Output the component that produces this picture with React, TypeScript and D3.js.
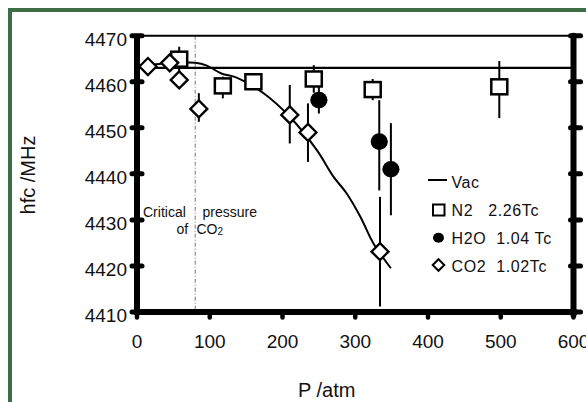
import React from "react";
import * as d3 from "d3";

const xTicks = [0, 100, 200, 300, 400, 500, 600];
const yTicks = [4410, 4420, 4430, 4440, 4450, 4460, 4470];
const vacValue = 4463;
const criticalP = 80;

const n2P = [58, 118, 160, 243, 324, 498];
const n2V = [4464.9, 4459.1, 4460.0, 4460.6, 4458.3, 4458.9];
const n2Lo = [4462.2, 4456.4, 4458.2, 4457.6, 4456.0, 4452.1];
const n2Hi = [4467.6, 4461.1, 4461.8, 4463.6, 4460.6, 4464.5];

const h2oP = [250, 333, 349];
const h2oV = [4456.0, 4447.0, 4441.0];
const h2oLo = [4453.1, 4436.4, 4431.0];
const h2oHi = [4458.9, 4456.0, 4451.0];

const co2P = [15, 45, 58, 85, 210, 235, 334];
const co2V = [4463.3, 4464.1, 4460.4, 4454.1, 4452.8, 4449.0, 4423.1];
const co2Lo = [4463.3, 4464.1, 4460.4, 4451.3, 4446.6, 4442.6, 4411.2];
const co2Hi = [4463.3, 4464.1, 4460.4, 4457.5, 4459.3, 4455.3, 4435.0];

const fitP = [10, 45, 80, 96, 116, 137, 174, 210, 247, 270, 288, 307, 325, 349];
const fitV = [4463.6, 4464.0, 4464.1, 4463.5, 4461.8, 4460.9, 4457.5, 4452.4, 4445.2, 4439.4, 4435.8, 4430.7, 4424.9, 4419.5];

const legendLabels = ["Vac", "N2   2.26Tc", "H2O  1.04 Tc", "CO2  1.02Tc"];

const FONT = "'Liberation Sans', Arial, Helvetica, sans-serif";

export default function App() {
  const W = 586, H = 402;
  const x = d3.scaleLinear().domain([0, 600]).range([137, 573.5]);
  const y = d3.scaleLinear().domain([4410, 4470]).range([312, 35.7]);
  const line = d3
    .line<number>()
    .x((_, i) => x(fitP[i]))
    .y((d) => y(d))
    .curve(d3.curveCatmullRom.alpha(0.5));

  const diamond = (cx: number, cy: number, r: number) =>
    `M${cx},${cy - r}L${cx + r},${cy}L${cx},${cy + r}L${cx - r},${cy}Z`;

  const x0 = x(0), x1 = x(600), yTop = y(4470), yBot = y(4410);

  return (
    <svg width={W} height={H} style={{ position: "absolute", left: 0, top: 0, background: "#fff" }} fontFamily={FONT}>
      {/* green frame */}
      <rect x={10} y={10} width={W + 20} height={H + 20} fill="none" stroke="#3d6e45" strokeWidth={4} />

      {/* critical pressure line */}
      <line x1={x(criticalP)} x2={x(criticalP)} y1={yTop} y2={yBot} stroke="#777" strokeWidth={1} strokeDasharray="4,2,1,2" />
      <text x={143} y={216.5} fontSize={14} fill="#111">Critical</text>
      <text x={202.5} y={216.5} fontSize={14} fill="#111">pressure</text>
      <text x={176.5} y={234} fontSize={14} fill="#111">of</text>
      <text x={196.5} y={234} fontSize={14} fill="#111">CO<tspan fontSize={10} dy={1}>2</tspan></text>

      {/* top frame & vac line */}
      <line x1={x0} x2={x1} y1={yTop} y2={yTop} stroke="#000" strokeWidth={2} />
      <line x1={x0} x2={x1} y1={y(vacValue)} y2={y(vacValue)} stroke="#000" strokeWidth={2.2} />

      {/* fit curve */}
      <path d={line(fitV) || ""} fill="none" stroke="#000" strokeWidth={2} />

      {/* error bars */}
      {n2P.map((p, i) => (
        <line key={"ne" + i} x1={x(p)} x2={x(p)} y1={y(n2Lo[i])} y2={y(n2Hi[i])} stroke="#000" strokeWidth={2} />
      ))}
      {h2oP.map((p, i) => (
        <line key={"he" + i} x1={x(p)} x2={x(p)} y1={y(h2oLo[i])} y2={y(h2oHi[i])} stroke="#000" strokeWidth={2} />
      ))}
      {co2P.map((p, i) => (
        <line key={"ce" + i} x1={x(p)} x2={x(p)} y1={y(co2Lo[i])} y2={y(co2Hi[i])} stroke="#000" strokeWidth={2} />
      ))}

      {/* markers */}
      {n2P.map((p, i) => (
        <rect key={"n" + i} x={x(p) - 8} y={y(n2V[i]) - 7.5} width={16} height={15} fill="#fff" stroke="#000" strokeWidth={2.5} />
      ))}
      {h2oP.map((p, i) => (
        <ellipse key={"h" + i} cx={x(p)} cy={y(h2oV[i])} rx={8.6} ry={8.3} fill="#000" />
      ))}
      {co2P.map((p, i) => (
        <path key={"c" + i} d={diamond(x(p), y(co2V[i]), 8.5)} fill="#fff" stroke="#000" strokeWidth={2.3} />
      ))}

      {/* axes */}
      <line x1={x0} x2={x0} y1={yTop} y2={yBot + 3} stroke="#000" strokeWidth={6} />
      <line x1={x1} x2={x1} y1={yTop} y2={yBot + 3} stroke="#000" strokeWidth={6} strokeLinecap="round" />
      <line x1={x0 - 3} x2={x1 + 3} y1={yBot} y2={yBot} stroke="#000" strokeWidth={6} />
      {yTicks.map((t) => (
        <g key={"yt" + t}>
          <line x1={x0 - 5} x2={x0 + 5} y1={y(t)} y2={y(t)} stroke="#000" strokeWidth={5} strokeLinecap="round" />
          <line x1={x1 - 3} x2={x1 + 7} y1={y(t)} y2={y(t)} stroke="#000" strokeWidth={5} strokeLinecap="round" />
          <text x={127} y={y(t) + 10} textAnchor="end" fontSize={19} fill="#111">{t}</text>
        </g>
      ))}
      {xTicks.map((t) => (
        <g key={"xt" + t}>
          <line x1={x(t)} x2={x(t)} y1={yBot + 1} y2={yBot + 5.5} stroke="#000" strokeWidth={4.5} strokeLinecap="round" />
          <text x={x(t)} y={348} textAnchor="middle" fontSize={19} fill="#111">{t}</text>
        </g>
      ))}

      {/* axis titles */}
      <text x={298} y={396.5} fontSize={20} fill="#111">P /atm</text>
      <text transform="translate(34.5,175) rotate(-90)" textAnchor="middle" fontSize={20} fill="#111">hfc /MHz</text>

      {/* legend */}
      <line x1={428} x2={447} y1={180} y2={180} stroke="#000" strokeWidth={2} />
      <rect x={433} y={204.5} width={11.5} height={11} fill="#fff" stroke="#000" strokeWidth={2} />
      <ellipse cx={438.5} cy={237.7} rx={5.5} ry={5} fill="#000" />
      <path d={diamond(438.5, 265, 5.8)} fill="#fff" stroke="#000" strokeWidth={2} />
      {legendLabels.map((l, i) => (
        <text key={"lg" + i} x={451.5} y={187.5 + i * 28} fontSize={16} letterSpacing={0.6} fill="#111" style={{ whiteSpace: "pre" }}>
          {l}
        </text>
      ))}
    </svg>
  );
}
